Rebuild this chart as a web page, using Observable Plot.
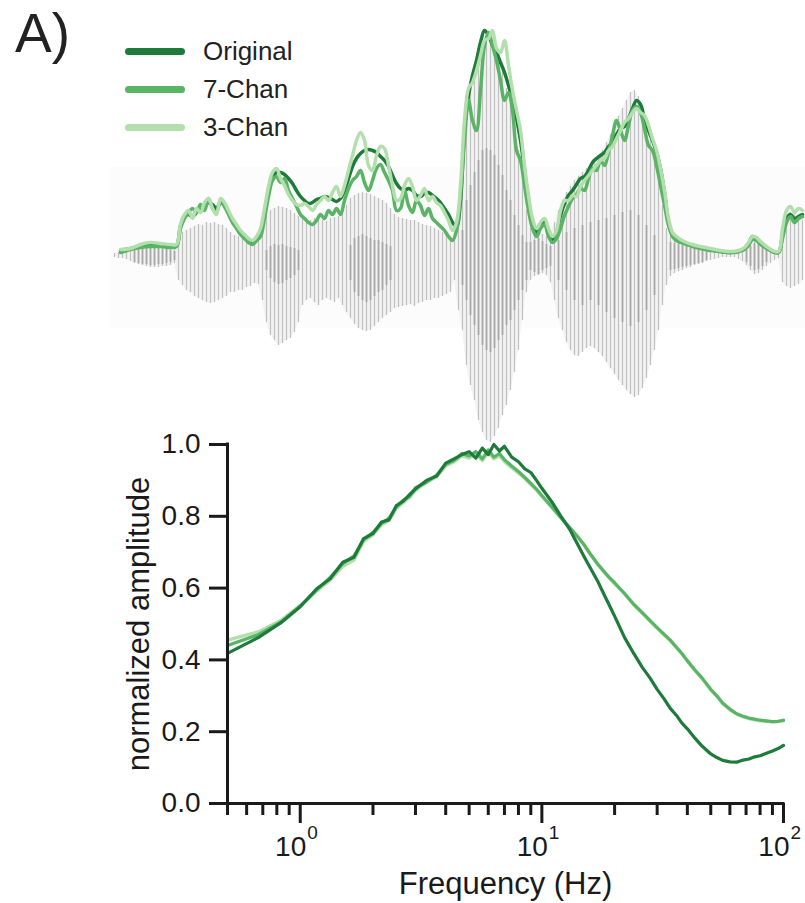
<!DOCTYPE html>
<html><head><meta charset="utf-8">
<script src="https://cdn.jsdelivr.net/npm/d3@7"></script>
<script src="https://cdn.jsdelivr.net/npm/@observablehq/plot@0.6"></script>
<style>
html,body{margin:0;padding:0;background:#fff;}
#fig{position:relative;width:805px;height:903px;overflow:hidden;font-family:"Liberation Sans",Arial,sans-serif;color:#222;}
#fig svg{position:absolute;left:0;top:0;}
.panel{position:absolute;left:15px;top:6px;font-size:55px;line-height:1;}
.legend{position:absolute;left:125px;top:32px;}
.item{display:flex;align-items:center;height:38px;font-size:26px;color:#222;}
.sw{width:60px;height:7px;border-radius:4px;margin-right:18px;}
</style></head><body>
<div id="fig"></div>
<script>
// ---------- series names / colours ----------
const seriesNames = ["Original", "7-Chan", "3-Chan"];
const seriesColors = ["#1e7b3c", "#5ab466", "#b2dfac"];

// ---------- top panel: speech waveform (time in ms, amplitude in a.u.) ----------
const boxT = [10, 1400];
const boxA = [-73, 88];

const waveT = [18,26,34,42,50,58,66,74,82,90,
98,106,114,122,130,138,146,154,162,170,
178,186,194,202,210,218,226,234,242,250,
258,266,274,282,290,298,306,314,322,330,
338,346,354,362,370,378,386,394,402,410,
418,426,434,442,450,458,466,474,482,490,
498,506,514,522,530,538,546,554,562,570,
578,586,594,602,610,618,626,634,642,650,
658,666,674,682,690,698,706,714,722,730,
738,746,754,762,770,778,786,794,802,810,
818,826,834,842,850,858,866,874,882,890,
898,906,914,922,930,938,946,954,962,970,
978,986,994,1002,1010,1018,1026,1034,1042,1050,
1058,1066,1074,1082,1090,1098,1106,1114,1122,1130,
1138,1146,1154,1162,1170,1178,1186,1194,1202,1210,
1218,1226,1234,1242,1250,1258,1266,1274,1282,1290,
1298,1306,1314,1322,1330,1338,1346,1354,1362,1370,
1378,1386,1394];
const waveTop = [2,3,3,4,6,7,8,9,10,10,
10,9,9,9,8,7,17,23,25,27,
29,31,30,33,32,33,31,30,27,23,
20,19,17,15,13,12,15,27,40,45,
47,49,48,47,45,42,39,37,36,35,
37,36,35,34,37,38,39,43,50,57,
60,62,63,62,61,59,57,55,52,47,
41,38,37,36,35,35,33,31,30,29,
27,25,23,22,19,15,40,95,135,165,
185,200,210,213,210,203,195,183,167,150,
130,105,75,45,27,23,25,21,19,20,
33,45,55,63,69,75,79,83,87,91,
95,100,105,113,121,129,139,147,155,163,
165,159,147,133,115,95,75,50,27,19,
16,14,13,11,10,9,8,7,5,4,
3,2,2,2,2,2,3,5,9,13,
17,15,12,9,6,4,3,30,40,43,
41,39,35];
const waveBot = [-2,-3,-3,-4,-6,-8,-9,-10,-11,-12,
-12,-12,-11,-11,-10,-8,-25,-30,-35,-37,
-41,-43,-45,-47,-48,-47,-45,-43,-41,-37,
-37,-35,-35,-32,-31,-28,-29,-45,-67,-80,
-85,-90,-88,-85,-83,-77,-67,-50,-45,-43,
-47,-50,-45,-43,-45,-47,-43,-50,-57,-63,
-69,-73,-75,-76,-75,-71,-67,-63,-60,-57,
-53,-52,-51,-50,-49,-51,-48,-47,-45,-45,
-43,-43,-41,-39,-37,-25,-55,-75,-110,-130,
-145,-165,-177,-185,-187,-181,-173,-160,-150,-135,
-117,-95,-65,-37,-25,-21,-20,-18,-20,-27,
-45,-63,-75,-87,-95,-100,-101,-97,-93,-91,
-93,-97,-101,-107,-113,-119,-125,-130,-135,-139,
-142,-140,-133,-123,-110,-95,-75,-50,-30,-21,
-18,-16,-15,-13,-12,-10,-9,-8,-6,-5,
-4,-3,-2,-2,-2,-2,-4,-6,-10,-15,
-19,-18,-15,-11,-8,-5,-3,-27,-31,-33,
-31,-29,-25];

// darker, denser core of the waveform
const coreT = [58,66,74,82,90,98,106,114,122,130,138,
322,330,338,346,354,362,370,378,386,
490,498,506,514,522,530,538,546,554,562,570,
714,722,730,738,746,754,762,770,778,786,794,802,810,818,826,834,842,
850,858,866,874,882,890,
906,922,938,954,970,986,1002,1018,1034,1050,1066,1082,1098,
1130,1138,1146,1154,1162,1170,1178,1186,1194,1202,
1282,1290,1298,1306,1314,1322];
const coreTop = [5,6,6,7,7,7,7,6,6,5,4,
5,9,11,10,11,9,8,7,5,
10,17,19,21,19,17,15,15,13,11,9,
25,55,70,83,95,105,107,105,100,90,80,65,55,40,30,20,13,
13,15,17,14,11,9,
15,23,27,30,33,35,37,40,43,45,40,30,20,
13,12,11,10,9,8,7,6,5,4,
5,9,12,11,9,6];
const coreBot = [-7,-8,-9,-9,-10,-10,-9,-9,-8,-7,-5,
-15,-23,-27,-29,-28,-25,-23,-20,-15,
-25,-37,-41,-45,-47,-45,-41,-37,-35,-30,-25,
-30,-45,-60,-70,-80,-90,-95,-97,-93,-85,-80,-70,-65,-55,-45,-35,-25,
-15,-17,-19,-15,-13,-11,
-25,-35,-45,-50,-45,-50,-57,-63,-67,-71,-67,-55,-40,
-15,-14,-13,-12,-11,-10,-9,-8,-7,-5,
-7,-11,-15,-14,-11,-7];

// amplitude envelopes
const envT = [30,50,70,90,110,130,142,150,158,166,
174,182,190,198,206,214,222,230,238,246,
254,262,270,278,286,294,302,310,318,326,
334,342,350,358,366,374,382,390,398,406,
414,422,430,438,446,454,462,470,478,486,
494,502,510,518,526,534,542,550,558,566,
574,582,590,598,606,614,622,630,638,646,
654,662,670,678,686,694,702,710,718,726,
734,742,750,758,766,774,782,790,798,806,
814,822,830,838,846,854,862,870,878,886,
894,902,910,918,926,934,942,950,958,966,
974,982,990,998,1006,1014,1022,1030,1038,1046,
1054,1062,1070,1078,1086,1094,1102,1110,1118,1126,
1134,1142,1150,1162,1174,1190,1210,1230,1250,1266,
1278,1286,1294,1302,1310,1322,1334,1346,1354,1362,
1370,1378,1386,1394];
const envOriginal = [5,7,9,11,10,9,10,30,39,41,
39,43,47,49,53,51,47,53,50,43,
35,29,23,19,15,13,15,23,43,63,
77,83,83,81,77,72,65,59,55,52,
53,56,57,59,58,56,54,57,65,77,
89,97,102,105,106,105,103,99,95,89,
80,72,67,65,67,65,60,59,62,63,
60,57,53,47,41,33,29,55,125,160,
180,195,213,225,220,210,203,193,183,170,
155,137,115,85,55,33,23,31,35,23,
15,23,40,52,60,65,71,77,79,85,
93,97,100,103,109,113,121,127,129,137,
147,155,151,137,125,115,103,87,63,33,
21,17,15,12,10,8,6,4,3,4,
7,12,19,17,13,8,4,3,20,37,
41,37,39,41];
const env7Chan = [3,6,8,9,9,8,9,27,37,43,
47,43,51,45,57,47,43,55,49,41,
33,27,21,17,13,11,15,19,37,59,
75,79,73,77,65,57,49,41,37,33,
31,35,41,37,45,41,47,41,55,67,
75,79,85,73,65,75,87,91,83,75,
65,45,47,65,50,43,55,50,40,47,
37,33,29,25,19,15,25,60,115,155,
135,125,165,210,223,210,195,175,155,163,
145,105,95,70,45,27,19,27,31,19,
13,17,27,40,49,57,61,67,65,77,
87,85,95,90,103,120,135,125,115,130,
145,149,143,127,110,105,90,70,50,30,
19,15,13,11,9,7,5,4,3,4,
6,10,16,15,11,7,4,3,17,33,
39,33,37,39];
const env3Chan = [6,7,11,13,12,11,11,31,41,45,
37,47,43,53,57,47,41,57,53,45,
37,31,25,21,17,15,19,27,47,69,
83,87,77,70,61,55,51,50,52,49,
45,51,55,59,55,63,69,59,70,85,
100,115,123,115,90,85,100,109,107,90,
70,55,57,70,77,69,55,60,67,55,
59,53,50,43,35,25,33,70,135,167,
173,185,200,215,217,225,207,203,215,190,
165,145,125,90,60,37,27,33,37,27,
19,25,45,55,55,60,59,69,75,80,
85,90,95,97,105,109,117,125,133,137,
143,147,143,140,130,117,105,87,65,37,
23,19,16,13,11,9,7,5,4,5,
8,13,19,18,14,9,5,4,27,45,
49,43,47,45];

// ---------- bottom panel: modulation spectrum ----------
const freq = [0.5,0.67,0.83,1.0,1.17,1.33,1.5,1.67,1.83,2.0,
2.17,2.33,2.5,2.67,2.83,3.0,3.33,3.67,
4.0,4.33,4.67,5.0,5.33,5.67,6.0,6.33,6.67,7.0,
7.5,8.0,8.5,9.0,9.5,10,
11,12,13,14,15,16,17,18,19,20,
22,24,26,28,30,32,34,36,38,40,
43,46,50,53,56,60,64,68,72,76,
80,85,90,95,100];
const ampOriginal = [.418,.462,.503,.548,.598,.626,.672,.686,.738,.752,
.784,.79,.83,.842,.86,.876,.9,.912,
.948,.96,.972,.98,.962,.99,.972,1.0,.982,.995,
.965,.952,.932,.922,.9,.878,
.84,.8,.765,.724,.686,.652,.62,.585,.553,.522,
.462,.418,.38,.35,.318,.292,.265,.246,.224,.208,
.182,.16,.138,.128,.12,.116,.115,.121,.124,.13,
.133,.14,.146,.153,.162];
const amp7Chan = [.44,.47,.505,.55,.595,.63,.668,.69,.735,.755,
.78,.795,.826,.845,.855,.88,.895,.915,
.945,.955,.975,.968,.98,.96,.985,.965,.975,.958,
.94,.925,.908,.892,.876,.858,
.826,.796,.77,.745,.72,.692,.668,.648,.63,.615,
.585,.555,.532,.51,.49,.472,.455,.436,.418,.398,
.372,.35,.318,.3,.28,.263,.25,.243,.238,.235,
.232,.23,.228,.229,.232];
const amp3Chan = [.455,.478,.51,.552,.592,.622,.66,.678,.73,.748,
.776,.788,.822,.838,.852,.872,.894,.91,
.94,.952,.968,.962,.975,.955,.978,.96,.968,.952,
.935,.92,.905,.888,.872,.855,
.824,.795,.768,.744,.718,.69,.666,.646,.628,.612,
.583,.553,.53,.508,.488,.47,.453,.434,.416,.396,
.37,.348,.316,.298,.278,.261,.249,.241,.236,.233,
.23,.229,.227,.228,.23];

const yTicks = [0, 0.2, 0.4, 0.6, 0.8, 1.0];
const xMinorTicks = [0.5,0.6,0.7,0.8,0.9,2,3,4,5,6,7,8,9,20,30,40,50,60,70,80,90];
const xMajorTicks = [1, 10, 100];
const xMajorExp = ["0", "1", "2"];
const xLabel = "Frequency (Hz)";
const yLabel = "normalized amplitude";

// ---------- checks ----------
function same(a, b, n) { if (a.length !== b.length) throw new Error(n + ": " + a.length + " vs " + b.length); }
same(waveT, waveTop, "waveTop"); same(waveT, waveBot, "waveBot");
same(coreT, coreTop, "coreTop"); same(coreT, coreBot, "coreBot");
same(envT, envOriginal, "envO"); same(envT, env7Chan, "env7"); same(envT, env3Chan, "env3");
same(freq, ampOriginal, "ampO"); same(freq, amp7Chan, "amp7"); same(freq, amp3Chan, "amp3");

// ---------- build tables ----------
const wave = waveT.map((t, i) => ({t, hi: waveTop[i], lo: waveBot[i]}));
const core = coreT.map((t, i) => ({t, hi: coreTop[i], lo: coreBot[i]}));
const envVals = [envOriginal, env7Chan, env3Chan];
const env = envVals.map(v => envT.map((t, i) => ({t, a: v[i]})));
const ampVals = [ampOriginal, amp7Chan, amp3Chan];
const spec = ampVals.map(v => freq.map((f, i) => ({f, a: v[i]})));
const box = [{x1: boxT[0], x2: boxT[1], y1: boxA[0], y2: boxA[1]}];

const FONT = "'Liberation Sans', Arial, Helvetica, sans-serif";
const fig = document.getElementById("fig");

// ---------- top waveform plot ----------
const topPlot = Plot.plot({
  width: 805, height: 510,
  marginLeft: 105, marginRight: 0, marginTop: 15, marginBottom: 15,
  x: {domain: [0, 1400], axis: null},
  y: {domain: [-240, 240], axis: null},
  style: {background: "transparent", overflow: "visible"},
  marks: [
    Plot.rect(box, {x1: "x1", x2: "x2", y1: "y1", y2: "y2", fill: "#fcfcfc"}),
    Plot.areaY(wave, {x: "t", y1: "lo", y2: "hi", fill: "#f3f3f3"}),
    Plot.ruleX(wave, {x: "t", y1: "lo", y2: "hi", stroke: "#c0c0c0", strokeWidth: 1.2}),
    Plot.ruleX(core, {x: "t", y1: "lo", y2: "hi", stroke: "#707070", strokeOpacity: 0.3, strokeWidth: 2.5}),
    Plot.line(env[0], {x: "t", y: "a", stroke: seriesColors[0], strokeWidth: 3.5, curve: "catmull-rom"}),
    Plot.line(env[1], {x: "t", y: "a", stroke: seriesColors[1], strokeWidth: 3.5, curve: "catmull-rom"}),
    Plot.line(env[2], {x: "t", y: "a", stroke: seriesColors[2], strokeWidth: 3.5, curve: "catmull-rom"})
  ]
});
fig.appendChild(topPlot);

// ---------- bottom spectrum plot ----------
const AX = "#1a1a1a";
const botPlot = Plot.plot({
  width: 805, height: 903,
  marginLeft: 227, marginRight: 22, marginTop: 444, marginBottom: 100,
  x: {type: "log", domain: [0.5, 100], axis: null},
  y: {domain: [0, 1], axis: null},
  style: {background: "transparent", overflow: "visible", fontFamily: FONT},
  marks: [
    Plot.line(spec[2], {x: "f", y: "a", stroke: seriesColors[2], strokeWidth: 3.2}),
    Plot.line(spec[1], {x: "f", y: "a", stroke: seriesColors[1], strokeWidth: 3.2}),
    Plot.line(spec[0], {x: "f", y: "a", stroke: seriesColors[0], strokeWidth: 3.2}),
    Plot.axisY({ticks: yTicks, tickSize: 18, tickPadding: 9, tickFormat: d3.format(".1f"),
      fontSize: 28, strokeWidth: 3, color: AX, label: null}),
    Plot.axisX({ticks: xMinorTicks, tickSize: 12, strokeWidth: 3, tickFormat: () => "", color: AX, label: null}),
    Plot.axisX({ticks: xMajorTicks, tickSize: 20, strokeWidth: 3, tickFormat: () => "", color: AX, label: null}),
    Plot.ruleX([0.5], {stroke: AX, strokeWidth: 3, strokeLinecap: "square"}),
    Plot.ruleY([0], {stroke: AX, strokeWidth: 3, strokeLinecap: "square"}),
    Plot.text(xMajorTicks, {x: d => d, y: () => 0, text: () => "10", textAnchor: "end", lineAnchor: "middle", dx: 6, dy: 44, fontSize: 28, fill: AX}),
    Plot.text(xMajorTicks, {x: d => d, y: () => 0, text: (d, i) => xMajorExp[i], textAnchor: "start", lineAnchor: "middle", dx: 7, dy: 29, fontSize: 19, fill: AX}),
    Plot.text([xLabel], {frameAnchor: "bottom", textAnchor: "middle", lineAnchor: "middle", text: d => d, dy: 81, fontSize: 31, fill: AX}),
    Plot.text([yLabel], {frameAnchor: "left", textAnchor: "middle", lineAnchor: "middle", text: d => d, rotate: -90, dx: -88, fontSize: 31, fill: AX})
  ]
});
fig.appendChild(botPlot);

// ---------- panel letter + legend ----------
const panel = document.createElement("div");
panel.className = "panel";
panel.textContent = "A)";
fig.appendChild(panel);

const legend = document.createElement("div");
legend.className = "legend";
seriesNames.forEach((name, i) => {
  const item = document.createElement("div");
  item.className = "item";
  const sw = document.createElement("div");
  sw.className = "sw";
  sw.style.background = seriesColors[i];
  const lab = document.createElement("span");
  lab.textContent = name;
  item.appendChild(sw); item.appendChild(lab);
  legend.appendChild(item);
});
fig.appendChild(legend);
</script>
</body></html>
